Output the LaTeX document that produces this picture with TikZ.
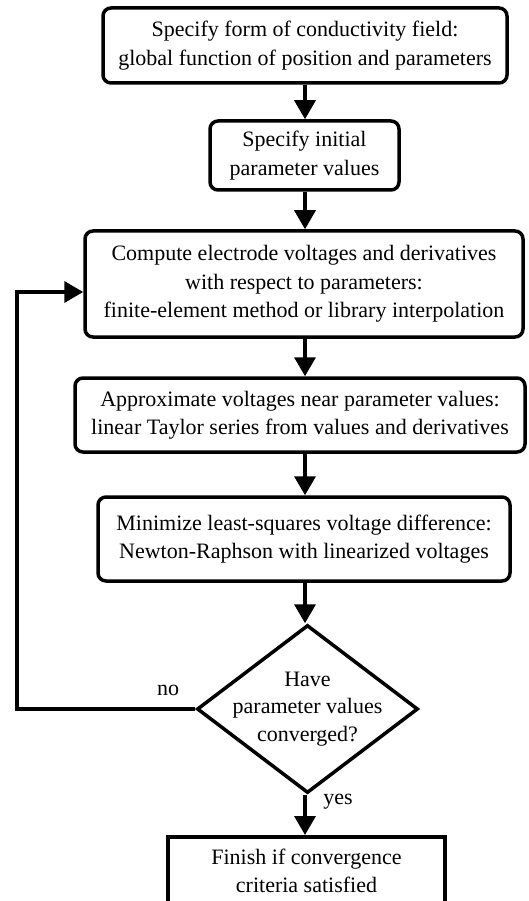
\documentclass[tikz,border=0pt]{standalone}
\usepackage{fontspec}
\setmainfont{Liberation Serif}
\usetikzlibrary{arrows.meta,shapes.geometric,calc}
\begin{document}
\begin{tikzpicture}[x=1pt,y=-1pt,
  every node/.style={font=\fontsize{22}{28.5}\selectfont, align=center},
  box/.style={draw, line width=3.5pt, rounded corners=8pt, inner sep=0pt},
  sqbox/.style={draw, line width=3.5pt, inner xsep=0pt},
  dia/.style={draw, diamond, line width=3.5pt, inner sep=0pt},
  diatext/.style={font=\fontsize{22}{27.5}\selectfont, inner sep=0pt},
  flow/.style={line width=3.5pt, -{Triangle[width=21pt,length=19pt]}},
  lbl/.style={font=\fontsize{22}{24}\selectfont}
]
\clip (0,0) rectangle (529,901);
\fill[white] (0,0) rectangle (529,901);

\node[box, minimum width=404pt, minimum height=75pt] (b1) at (305,45.5)
  {Specify form of conductivity field:\\global function of position and parameters};
\node[box, minimum width=189pt, minimum height=69pt] (b2) at (304.5,155.5)
  {Specify initial\\parameter values};
\node[box, minimum width=438pt, minimum height=106pt] (b3) at (304,284)
  {Compute electrode voltages and derivatives\\with respect to parameters:\\finite-element method or library interpolation};
\node[box, minimum width=450pt, minimum height=74pt] (b4) at (300,415)
  {Approximate voltages near parameter values:\\linear Taylor series from values and derivatives};
\node[box, minimum width=412pt, minimum height=84pt] (b5) at (304,539)
  {Minimize least-squares voltage difference:\\Newton-Raphson with linearized voltages};
\node[dia, minimum width=221pt, minimum height=168pt] (d) at (307.5,709) {};
\node[diatext] (dt) at (d.center) {Have\\parameter values\\converged?};
\node[sqbox, anchor=north, minimum width=277pt, inner ysep=12pt] (b6) at (306.5,835)
  {Finish if convergence\\criteria satisfied};

\coordinate (lp) at (17,292);

\draw[flow] (b1.south -| 305,0) -- (b2.north -| 305,0);
\draw[flow] (b2.south -| 305,0) -- (b3.north -| 305,0);
\draw[flow] (b3.south -| 305,0) -- (b4.north -| 305,0);
\draw[flow] (b4.south -| 305,0) -- (b5.north -| 305,0);
\draw[flow] (b5.south -| 305,0) -- (d.north -| 305,0);
\draw[flow] (d.south -| 305,0) -- (b6.north -| 305,0);
\draw[flow] (d.west) -| (lp) -- (lp -| b3.west);

\node[lbl] (no) at (168,690) {no};
\node[lbl] (yes) at (338,802) {yes};
\end{tikzpicture}
\end{document}
